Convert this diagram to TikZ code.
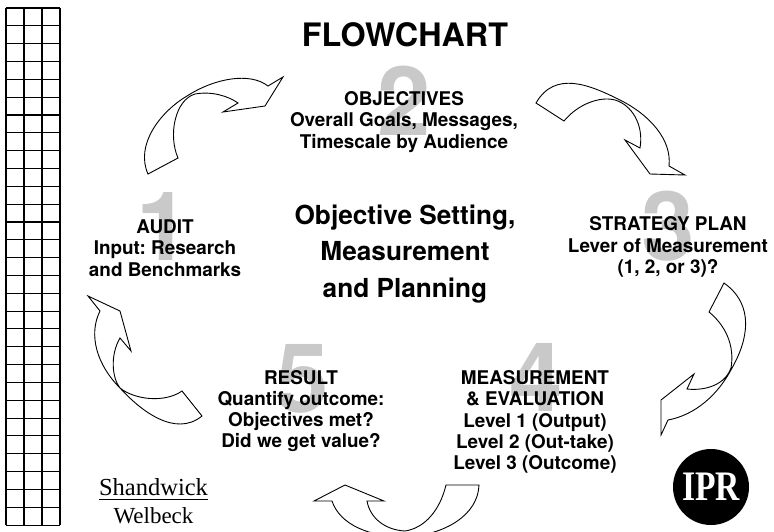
\documentclass[tikz,border=0pt]{standalone}
\usepackage{fontspec}
\setmainfont{TeX Gyre Heros}
\newfontfamily\logofont{Liberation Serif}
\usepackage{tikz}
\frenchspacing

\begin{document}
\begin{tikzpicture}[x=1pt, y=-1pt, font=\bfseries,
  stepLabel/.style={align=center, inner sep=0pt, font=\fontsize{18.9}{21.3}\selectfont\bfseries},
  bigDigit/.style={color=digitGray, inner sep=0pt, font=\fontsize{96}{96}\selectfont\bfseries},
  centerTitle/.style={align=center, inner sep=0pt, font=\fontsize{26.2}{36.5}\selectfont\bfseries},
  loopArrow/.style={draw=black, line width=0.9pt, line join=miter},
  gridLine/.style={draw=black, line width=1.1pt},
  logoText/.style={inner sep=0pt, font=\logofont\mdseries\fontsize{24.5}{24.5}\selectfont}
]
\definecolor{digitGray}{gray}{0.79}
\useasboundingbox (0, 0) rectangle (774, 531);
\clip (0, 0) rectangle (774, 531);

%------------- Grid
	\foreach \gridX in {6, 24, 42, 60} {
		\draw[gridLine] (\gridX, 8) -- (\gridX, 525);
	}
	\foreach \gridRow in {0, ..., 29} {
		\draw[gridLine] (6, 8 + 17.83*\gridRow) -- (60, 8 + 17.83*\gridRow);
	}

%------------- Digits
	\node[bigDigit] (Digit_One) at (163, 226) {1};
	\node[bigDigit] (Digit_Two) at (404, 101) {2};
	\node[bigDigit] (Digit_Three) at (668, 226) {3};
	\node[bigDigit] (Digit_Four) at (536, 377) {4};
	\node[bigDigit] (Digit_Five) at (302, 379) {5};

%------------- Titles
	\node[inner sep=0pt, font=\fontsize{32.3}{32.3}\selectfont\bfseries] (Flowchart) at (405, 35) {FLOWCHART};
	\node[centerTitle] (Center_Title) at (405, 254) {Objective Setting,\\Measurement\\and Planning};

%------------- Steps
	\node[stepLabel] (Audit) at (165, 248) {AUDIT\\Input: Research\\and Benchmarks};
	\node[stepLabel] (Objectives) at (404, 122) {OBJECTIVES\\Overall Goals, Messages,\\Timescale by Audience};
	\node[stepLabel] (Strategy) at (668, 247) {STRATEGY PLAN\\Lever of Measurement\\(1, 2, or 3)?};
	\node[stepLabel] (Measurement) at (535, 422) {MEASUREMENT\\\&\ EVALUATION\\Level 1 (Output)\\Level 2 (Out-take)\\Level 3 (Outcome)};
	\node[stepLabel] (Result) at (301, 411) {RESULT\\Quantify outcome:\\Objectives met?\\Did we get value?};

%------------- Arrow from audit
	\draw[loopArrow] (148, 174) -- (178, 158)
		.. controls (168, 135) and (175, 100) .. (195, 94)
		.. controls (212, 91) and (228, 96) .. (238, 103)
		-- (223, 112) -- (265, 106) -- (283, 77) -- (268, 86)
		.. controls (250, 72) and (215, 78) .. (187, 96)
		.. controls (160, 112) and (135, 145) .. (148, 174) -- cycle;

%------------- Arrow from objectives
	\draw[loopArrow] (536, 103) -- (564, 121)
		.. controls (578, 104) and (600, 96) .. (615, 100)
		.. controls (632, 105) and (644, 125) .. (640, 148)
		-- (625, 140) -- (650, 174) -- (685, 175) -- (669, 166)
		.. controls (672, 140) and (650, 115) .. (620, 100)
		.. controls (590, 85) and (555, 70) .. (536, 103) -- cycle;

%------------- Arrow from strategy
	\draw[loopArrow] (724, 283) -- (709, 312)
		.. controls (725, 325) and (735, 345) .. (731, 368)
		.. controls (725, 385) and (705, 391) .. (687, 389)
		-- (694, 374) -- (661, 400) -- (661, 435) -- (668, 420)
		.. controls (695, 415) and (718, 395) .. (732, 368)
		.. controls (748, 340) and (755, 305) .. (724, 283) -- cycle;

%------------- Arrow from measurement
	\draw[loopArrow] (479, 485) -- (446, 485)
		.. controls (440, 510) and (425, 528) .. (405, 531)
		.. controls (385, 530) and (370, 518) .. (367, 501)
		-- (384, 501) -- (345, 485) -- (314, 501) -- (332, 501)
		.. controls (340, 525) and (370, 537) .. (405, 537)
		.. controls (445, 535) and (478, 515) .. (479, 485) -- cycle;

%------------- Arrow from result
	\draw[loopArrow] (202, 416) -- (182, 391)
		.. controls (165, 403) and (135, 400) .. (120, 388)
		.. controls (112, 378) and (110, 355) .. (120, 338)
		-- (131, 351) -- (120, 311) -- (88, 296) -- (100, 311)
		.. controls (88, 335) and (97, 365) .. (120, 388)
		.. controls (140, 410) and (175, 438) .. (202, 416) -- cycle;

%------------- Logos
	\node[logoText, anchor=base] (Shandwick) at (153.5, 495) {Shandwick};
	\node[logoText, anchor=base, font=\logofont\mdseries\fontsize{23}{23}\selectfont] (Welbeck) at (153.5, 523) {Welbeck};
	\draw[draw=black, line width=0.9pt] (Shandwick.west |- 0, 499) -- (Shandwick.east |- 0, 499);

	\node[draw=none, shape=circle, fill=black, minimum size=76pt, inner sep=0pt] (Ipr_Disc) at (711, 487) {};
	\node[inner sep=0pt, color=white, xscale=0.8, font=\logofont\bfseries\fontsize{42}{42}\selectfont] (Ipr_Text) at (Ipr_Disc) {IPR};

\end{tikzpicture}
\end{document}
